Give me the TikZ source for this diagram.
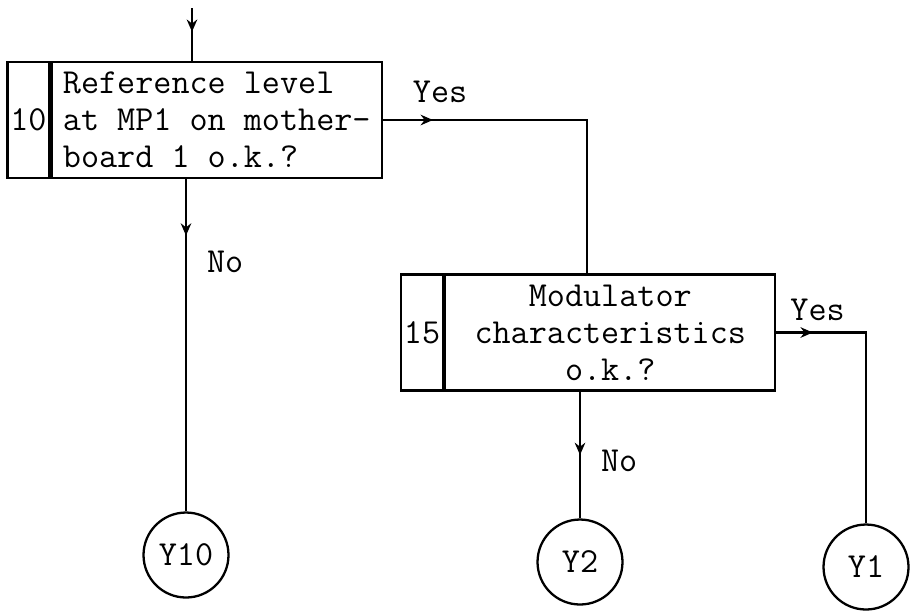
\documentclass[tikz,border=0pt]{standalone}
\usepackage{fontspec}
\usetikzlibrary{positioning, arrows.meta, decorations.markings}

\tikzset{
  numbox/.style={draw, minimum width=0.84cm, minimum height=2.32cm, inner sep=0pt},
  textbox/.style={draw, minimum width=6.6cm, minimum height=2.32cm, inner sep=2pt},
  endpoint/.style={draw, circle, minimum size=1.7cm, inner sep=0pt},
  midarrow/.style={postaction={decorate}, decoration={markings,
    mark=at position #1 with {\arrow{Stealth[length=7pt, width=6pt]}}}},
}

\begin{document}
\begin{tikzpicture}[x=0.02cm, y=-0.02cm, line width=1.3pt,
  font=\fontsize{20}{21}\selectfont\ttfamily]

\useasboundingbox (0,0) rectangle (915,610);

% Step 10
\node[numbox] (n10) at (28.5,120) {10};
\node[textbox, align=left, right=0pt of n10] (t10) {Reference level\\at MP1 on mother-\\board 1 o.k.?};

% Step 15
\node[numbox] (n15) at (422,332.5) {15};
\node[textbox, align=center, right=0pt of n15] (t15) {Modulator\\characteristics\\o.k.?};

% Exits
\node[endpoint] (y10) at (186,555) {Y10};
\node[endpoint] (y2) at (580,562) {Y2};
\node[endpoint] (y1) at (866,567) {Y1};

\coordinate (entry) at (192,8);

% Connectors
\draw[midarrow=0.45] (entry) -- (entry |- t10.north);
\draw[midarrow=0.17] (t10.south -| y10) -- node[pos=0.25, right=8pt] {No} (y10);
\draw[midarrow=0.14] (t10.east) -| node[pos=0.14, above=6pt] {Yes} ([xshift=-0.46cm]t15.north);
\draw[midarrow=0.5] (t15.south -| y2) -- node[pos=0.55, right=8pt] {No} (y2);
\draw[midarrow=0.13] (t15.east) -| node[pos=0.23, above=3pt] {Yes} (y1);

\end{tikzpicture}
\end{document}
